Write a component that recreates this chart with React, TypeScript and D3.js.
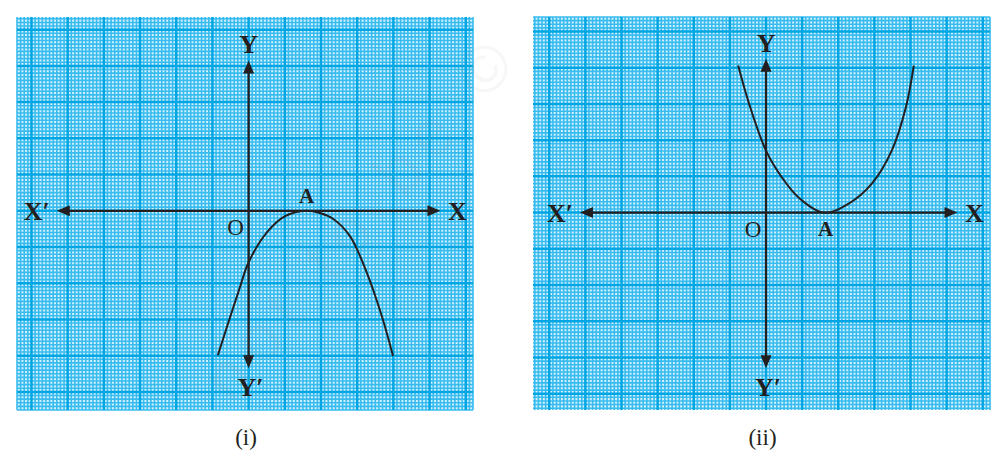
import React from "react";
import * as d3 from "d3";

// Curve (i): downward parabola touching X-axis at A (units = one big grid square)
const curve1X = [-0.85, -0.6, -0.24, 0, 0.51, 1.01, 1.59, 1.97, 2.33, 2.8, 3.27, 3.69, 3.99];
const curve1Y = [-3.99, -3.21, -2.11, -1.42, -0.59, -0.15, 0, -0.06, -0.22, -0.7, -1.72, -2.94, -4.01];

// Curve (ii): upward parabola touching X-axis at A
const curve2X = [-0.77, -0.47, 0, 0.44, 0.91, 1.6, 2.29, 2.93, 3.48, 3.87, 4.09];
const curve2Y = [4.06, 3.01, 1.71, 0.97, 0.41, 0, 0.25, 0.8, 1.71, 2.9, 4.06];

// Axis extents (units)
const axisX1 = [-5.3, 5.3];
const axisY1 = [-4.35, 4.15];
const axisX2 = [-5.15, 5.3];
const axisY2 = [-4.3, 4.25];

// Vertex A positions
const vertexA1 = [1.6, 0];
const vertexA2 = [1.65, 0];

const captions = ["(i)", "(ii)"];
const axisLabels = { xPos: "X", xNeg: "X\u2032", yPos: "Y", yNeg: "Y\u2032", origin: "O", point: "A" };

const INK = "#231f20";
const FONT = "Liberation Serif, Times New Roman, serif";

type PanelProps = {
  xDomain: [number, number];
  yDomain: [number, number];
  xRange: [number, number];
  yRange: [number, number];
  cx: number[];
  cy: number[];
  ax: number[];
  ay: number[];
  vA: number[];
  aBelow: boolean;
  caption: string;
};

function Arrow({ x, y, dir }: { x: number; y: number; dir: "l" | "r" | "u" | "d" }) {
  const L = 13, W = 5.5;
  let d = "";
  if (dir === "r") d = `M${x},${y} L${x - L},${y - W} L${x - L},${y + W} Z`;
  if (dir === "l") d = `M${x},${y} L${x + L},${y - W} L${x + L},${y + W} Z`;
  if (dir === "u") d = `M${x},${y} L${x - W},${y + L} L${x + W},${y + L} Z`;
  if (dir === "d") d = `M${x},${y} L${x - W},${y - L} L${x + W},${y - L} Z`;
  return <path d={d} fill={INK} />;
}

function Panel(p: PanelProps) {
  const x = d3.scaleLinear().domain(p.xDomain).range(p.xRange);
  const y = d3.scaleLinear().domain(p.yDomain).range(p.yRange);
  const xs = d3.range(Math.ceil(p.xDomain[0] * 10), Math.floor(p.xDomain[1] * 10) + 1);
  const ys = d3.range(Math.ceil(p.yDomain[1] * 10), Math.floor(p.yDomain[0] * 10) + 1);
  const line = d3
    .line<number>()
    .x((_, i) => x(p.cx[i]))
    .y((_, i) => y(p.cy[i]))
    .curve(d3.curveCatmullRom.alpha(0.5));
  const x0 = x(0), y0 = y(0);
  const minorColor = "#38bcef";
  const majorColor = "#00a6e4";
  return (
    <g>
      <rect x={p.xRange[0]} y={p.yRange[0]} width={p.xRange[1] - p.xRange[0]} height={p.yRange[1] - p.yRange[0]} fill="#d4f0fc" />
      {xs.filter((v) => v % 10 !== 0).map((v) => (
        <line key={"vx" + v} x1={x(v / 10)} x2={x(v / 10)} y1={p.yRange[0]} y2={p.yRange[1]} stroke={minorColor} strokeWidth={1.6} />
      ))}
      {ys.filter((v) => v % 10 !== 0).map((v) => (
        <line key={"hy" + v} y1={y(v / 10)} y2={y(v / 10)} x1={p.xRange[0]} x2={p.xRange[1]} stroke={minorColor} strokeWidth={1.6} />
      ))}
      {xs.filter((v) => v % 10 === 0).map((v) => (
        <line key={"Mx" + v} x1={x(v / 10)} x2={x(v / 10)} y1={p.yRange[0]} y2={p.yRange[1]} stroke={majorColor} strokeWidth={2.5} />
      ))}
      {ys.filter((v) => v % 10 === 0).map((v) => (
        <line key={"My" + v} y1={y(v / 10)} y2={y(v / 10)} x1={p.xRange[0]} x2={p.xRange[1]} stroke={majorColor} strokeWidth={2.5} />
      ))}
      {/* axes */}
      <line x1={x(p.ax[0]) + 6} x2={x(p.ax[1]) - 6} y1={y0} y2={y0} stroke={INK} strokeWidth={2.2} />
      <line x1={x0} x2={x0} y1={y(p.ay[1]) + 6} y2={y(p.ay[0]) - 6} stroke={INK} strokeWidth={2.2} />
      <Arrow x={x(p.ax[1])} y={y0} dir="r" />
      <Arrow x={x(p.ax[0])} y={y0} dir="l" />
      <Arrow x={x0} y={y(p.ay[1])} dir="u" />
      <Arrow x={x0} y={y(p.ay[0])} dir="d" />
      {/* curve */}
      <path d={line(p.cx) || ""} fill="none" stroke={INK} strokeWidth={2} />
      {/* labels */}
      <g fontFamily={FONT} fill={INK}>
        <text x={x(p.ax[1]) + 17} y={y0 + 9} fontSize={26} fontWeight="bold" textAnchor="middle">{axisLabels.xPos}</text>
        <text x={x(p.ax[0]) - 20} y={y0 + 9} fontSize={26} fontWeight="bold" textAnchor="middle">{axisLabels.xNeg}</text>
        <text x={x0} y={y(p.ay[1]) - 7} fontSize={26} fontWeight="bold" textAnchor="middle">{axisLabels.yPos}</text>
        <text x={x0 + 2} y={y(p.ay[0]) + 28} fontSize={26} fontWeight="bold" textAnchor="middle">{axisLabels.yNeg}</text>
        <text x={x0 - 13} y={y0 + 24} fontSize={23} textAnchor="middle">{axisLabels.origin}</text>
        <text x={x(p.vA[0])} y={p.aBelow ? y(p.vA[1]) + 23 : y(p.vA[1]) - 8} fontSize={21} fontWeight="bold" textAnchor="middle">{axisLabels.point}</text>
        <text x={(p.xRange[0] + p.xRange[1]) / 2 + 1} y={445} fontSize={23} textAnchor="middle">{p.caption}</text>
      </g>
    </g>
  );
}

export default function App() {
  return (
    <svg width={1004} height={474} style={{ position: "absolute", left: 0, top: 0, background: "#fff" }}>
      <Panel xDomain={[-6.4, 6.2]} yDomain={[5.35, -5.5]} xRange={[17, 473]} yRange={[17, 410]}
        cx={curve1X} cy={curve1Y} ax={axisX1} ay={axisY1} vA={vertexA1} aBelow={false} caption={captions[0]} />
      <Panel xDomain={[-6.45, 6.2]} yDomain={[5.4, -5.45]} xRange={[533, 990]} yRange={[17, 410]}
        cx={curve2X} cy={curve2Y} ax={axisX2} ay={axisY2} vA={vertexA2} aBelow={true} caption={captions[1]} />
      <text x={0} y={0} transform="translate(232,405) rotate(-50)" fontFamily="Liberation Sans, sans-serif"
        fontSize={66} fill="#888" opacity={0.06} letterSpacing={12}>not to be ©</text>
    </svg>
  );
}
